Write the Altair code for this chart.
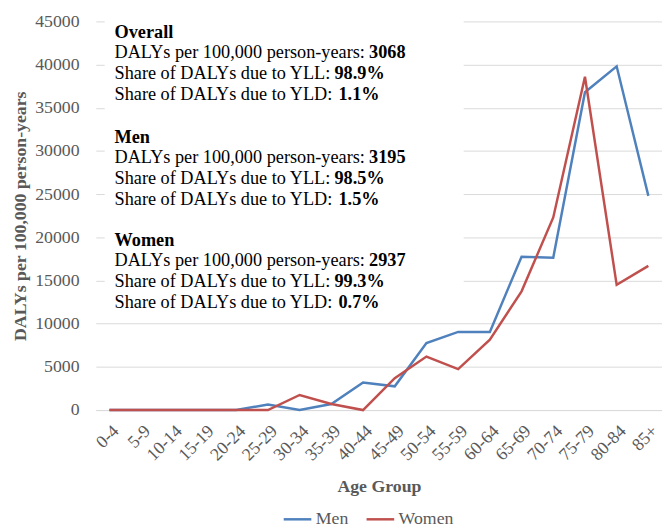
import altair as alt
import pandas as pd

# ---- data ----
age_groups = ["0-4", "5-9", "10-14", "15-19", "20-24", "25-29", "30-34", "35-39",
              "40-44", "45-49", "50-54", "55-59", "60-64", "65-69", "70-74",
              "75-79", "80-84", "85+"]
men = [0, 0, 0, 0, 0, 650, 0, 700, 3200, 2750, 7750, 9050, 9050, 17750, 17650,
       36800, 39800, 24800]
women = [0, 0, 0, 0, 0, 0, 1750, 700, 0, 3700, 6200, 4750, 8150, 13750, 22300,
         38600, 14500, 16700]
series = ["Men", "Women"]
colors = ["#4F81BD", "#C0504D"]

block_titles = ["Overall", "Men", "Women"]
line_labels = ["DALYs per 100,000 person-years: ",
               "Share of DALYs due to YLL: ",
               "Share of DALYs due to YLD: "]
block_values = [["3068", "98.9%", "1.1%"],
                ["3195", "98.5%", "1.5%"],
                ["2937", "99.3%", "0.7%"]]

# ---- layout (pixels, relative to plot area) ----
W, H = 574, 394
FONT = "Liberation Serif, 'Times New Roman', Times, 'DejaVu Serif', serif"
GRAY = "#595959"
text_x = 19
value_x = [277, 242, 246]
block_y = [10.5, 117, 221.5]
line_dy = [0, 20.5, 42, 63.5]

rows = []
for s, vals in zip(series, [men, women]):
    for a, v in zip(age_groups, vals):
        rows.append({"age": a, "value": v, "series": s})
df = pd.DataFrame(rows)

trows = []
for b, title in enumerate(block_titles):
    trows.append({"t": title, "px": text_x, "py": block_y[b] + line_dy[0], "w": "bold"})
    for i, lab in enumerate(line_labels):
        trows.append({"t": lab, "px": text_x, "py": block_y[b] + line_dy[i + 1], "w": "normal"})
        trows.append({"t": block_values[b][i], "px": value_x[i], "py": block_y[b] + line_dy[i + 1], "w": "bold"})
tdf = pd.DataFrame(trows)

box = alt.Chart(pd.DataFrame({"a": [0]})).mark_rect(color="white").encode(
    x=alt.value(9), x2=alt.value(373), y=alt.value(-8), y2=alt.value(296)
)

lines = alt.Chart(df).mark_line(strokeWidth=2.5).encode(
    x=alt.X("age:N", sort=age_groups,
            scale=alt.Scale(type="point", padding=0.43),
            axis=alt.Axis(title="Age Group", labelAngle=-45, labelPadding=12,
                          titlePadding=14, grid=False, ticks=False,
                          domainColor="#D9D9D9", labelColor=GRAY, labelFont=FONT,
                          titleFont=FONT,
                          labelFontSize=18, titleFontSize=18, titleColor=GRAY,
                          titleFontWeight="bold")),
    y=alt.Y("value:Q", scale=alt.Scale(domain=[0, 45000], nice=False),
            axis=alt.Axis(title="DALYs per 100,000 person-years", values=list(range(0, 45001, 5000)),
                          format="d", ticks=False, domain=False, gridColor="#D9D9D9",
                          labelColor=GRAY, labelFontSize=18, labelPadding=17,
                          labelFont=FONT, titleFont=FONT,
                          minExtent=63, maxExtent=63, titlePadding=4,
                          titleFontSize=18, titleColor=GRAY, titleFontWeight="bold")),
    color=alt.Color("series:N", scale=alt.Scale(domain=series, range=colors),
                    sort=series,
                    legend=alt.Legend(title=None, orient="none", legendX=189, legendY=489,
                                      direction="horizontal", symbolType="stroke",
                                      symbolSize=784, symbolStrokeWidth=2.5,
                                      labelFontSize=18, labelColor=GRAY, labelFont=FONT,
                                      labelOffset=3, columnPadding=13)),
    order=alt.Order("series:N"),
)

texts_n = alt.Chart(tdf).transform_filter(alt.datum.w == "normal").mark_text(
    align="left", baseline="middle", fontSize=18.5, font=FONT, color="black"
).encode(x=alt.X("px:Q", scale=None), y=alt.Y("py:Q", scale=None), text="t:N")

texts_b = alt.Chart(tdf).transform_filter(alt.datum.w == "bold").mark_text(
    align="left", baseline="middle", fontSize=18.5, font=FONT, color="black", fontWeight="bold"
).encode(x=alt.X("px:Q", scale=None), y=alt.Y("py:Q", scale=None), text="t:N")

chart = alt.layer(box, lines, texts_n, texts_b).properties(
    width=W, height=H, padding={"left": 4, "top": 1, "right": 0, "bottom": 0}
).configure(font=FONT).configure_view(stroke=None)

chart.save("out.html", embed_options={"renderer": "svg", "actions": False})
